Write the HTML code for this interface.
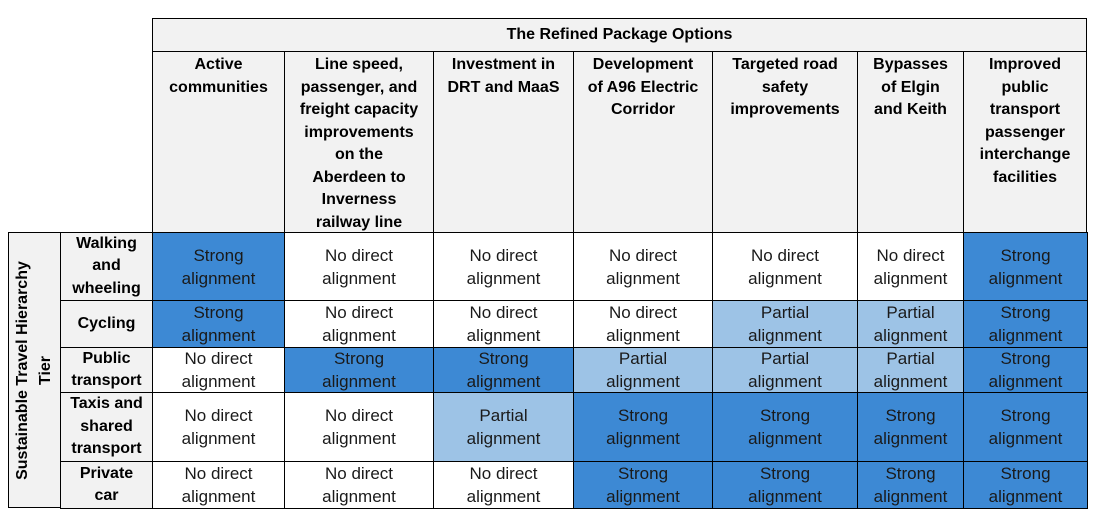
<!DOCTYPE html><html><head><style>
body{margin:0;width:1094px;height:514px;background:#fff;position:relative;font-family:"Liberation Sans",sans-serif;overflow:hidden}
.c{position:absolute;box-sizing:border-box;border:1px solid #000;display:flex;align-items:center;justify-content:center;text-align:center;font-size:17px;line-height:23px;color:#1a1a1a;overflow:hidden}
.h{background:#f2f2f2;font-weight:bold;color:#000;font-size:16px;line-height:22.5px}
.hd{align-items:flex-start;padding-top:2px}
.s{background:#3d89d4}.p{background:#9dc3e6}
</style></head><body>
<div class="c h" style="left:152px;top:18px;width:935px;height:34px">The Refined Package Options</div>
<div class="c h hd" style="left:152px;top:51px;width:133px;height:182px">Active<br>communities</div>
<div class="c h hd" style="left:284px;top:51px;width:150px;height:182px">Line speed,<br>passenger, and<br>freight capacity<br>improvements<br>on the<br>Aberdeen to<br>Inverness<br>railway line</div>
<div class="c h hd" style="left:433px;top:51px;width:141px;height:182px">Investment in<br>DRT and MaaS</div>
<div class="c h hd" style="left:573px;top:51px;width:140px;height:182px">Development<br>of A96 Electric<br>Corridor</div>
<div class="c h hd" style="left:712px;top:51px;width:146px;height:182px">Targeted road<br>safety<br>improvements</div>
<div class="c h hd" style="left:857px;top:51px;width:107px;height:182px">Bypasses<br>of Elgin<br>and Keith</div>
<div class="c h hd" style="left:963px;top:51px;width:124px;height:182px">Improved<br>public<br>transport<br>passenger<br>interchange<br>facilities</div>
<div class="c h" style="left:8px;top:232px;width:53px;height:276px"><div style="transform:rotate(-90deg);white-space:nowrap;text-align:center">Sustainable Travel Hierarchy<br>Tier</div></div>
<div id="g"></div>
<script>
var xs=[60,152,284,433,573,712,857,963,1087],ys=[232,300,347,392,461,508];
var lab=["Walking<br>and<br>wheeling","Cycling","Public<br>transport","Taxis and<br>shared<br>transport","Private<br>car"];
var d=["sNNNNNs","sNNNpps","Nssppps","NNpssss","NNNssss"];
var h="";
for(var r=0;r<5;r++){h+='<div class="c h" style="left:60px;top:'+ys[r]+'px;width:93px;height:'+(ys[r+1]-ys[r]+1)+'px">'+lab[r]+'</div>';
for(var c=0;c<7;c++){var t=d[r][c];var txt=t=="s"?"Strong<br>alignment":t=="p"?"Partial<br>alignment":"No direct<br>alignment";
h+='<div class="c '+(t=="N"?"":t)+'" style="left:'+xs[c+1]+'px;top:'+ys[r]+'px;width:'+(xs[c+2]-xs[c+1]+1)+'px;height:'+(ys[r+1]-ys[r]+1)+'px">'+txt+'</div>';}}
document.getElementById("g").innerHTML=h;
</script>
</body></html>
